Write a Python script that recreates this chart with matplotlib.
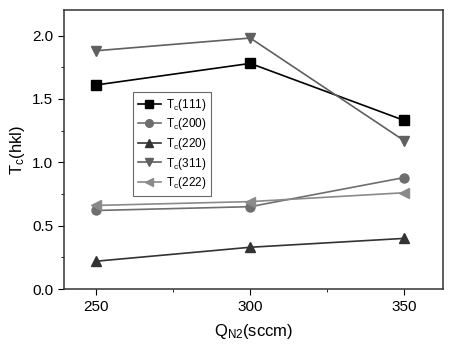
import numpy as np
import matplotlib.pyplot as plt
from matplotlib.ticker import MultipleLocator

plt.rcParams['font.family'] = ['Liberation Sans', 'DejaVu Sans']
plt.rcParams['mathtext.fontset'] = 'custom'
plt.rcParams['mathtext.rm'] = 'Liberation Sans'
plt.rcParams['mathtext.it'] = 'Liberation Sans'

q_n2 = [250, 300, 350]
tc_111 = [1.61, 1.78, 1.33]
tc_200 = [0.62, 0.65, 0.88]
tc_220 = [0.22, 0.33, 0.40]
tc_311 = [1.88, 1.98, 1.17]
tc_222 = [0.66, 0.69, 0.76]
labels = ['T$_\\mathrm{c}$(111)', 'T$_\\mathrm{c}$(200)', 'T$_\\mathrm{c}$(220)',
          'T$_\\mathrm{c}$(311)', 'T$_\\mathrm{c}$(222)']

fig = plt.figure(figsize=(4.5, 3.5), dpi=100)
ax = fig.add_axes([0.142, 0.174, 0.842, 0.797])

series = [
    (tc_111, 's', '#000000'),
    (tc_200, 'o', '#6e6e6e'),
    (tc_220, '^', '#333333'),
    (tc_311, 'v', '#606060'),
    (tc_222, '<', '#8a8a8a'),
]
for (vals, m, c), lab in zip(series, labels):
    ax.plot(q_n2, vals, marker=m, color=c, markersize=6.5, linewidth=1.2, label=lab)

ax.set_xlim(239.5, 362.5)
ax.set_ylim(0, 2.2)
ax.set_xticks([250, 300, 350])
ax.xaxis.set_minor_locator(MultipleLocator(25))
ax.yaxis.set_major_locator(MultipleLocator(0.5))
ax.yaxis.set_minor_locator(MultipleLocator(0.25))
ax.tick_params(which='both', direction='out', labelsize=11)
ax.tick_params(which='major', length=4)
ax.tick_params(which='minor', length=2.5)
ax.yaxis.set_major_formatter(plt.FormatStrFormatter('%.1f'))
for s in ax.spines.values():
    s.set_linewidth(1.1)
    s.set_color('#333333')

ax.set_xlabel('Q$_\\mathrm{N2}$(sccm)', fontsize=12, labelpad=6)
ax.set_ylabel('T$_\\mathrm{c}$(hkl)', fontsize=12)

leg = ax.legend(loc='upper left', bbox_to_anchor=(0.182, 0.706), borderaxespad=0,
                fontsize=8.5, frameon=True, fancybox=False, edgecolor='#444444',
                markerscale=0.85, handlelength=2.0, borderpad=0.4, labelspacing=0.3,
                handletextpad=0.4)
leg.get_frame().set_linewidth(0.8)

plt.savefig('out.png', dpi=100)
